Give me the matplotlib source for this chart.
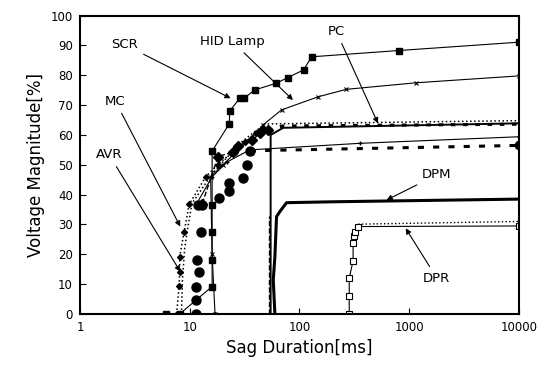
import numpy as np
import matplotlib
matplotlib.use("Agg")
import matplotlib.pyplot as plt

# sag duration [ms] / voltage magnitude [%]
scr_x = [6.1, 8.1, 16, 16, 16, 16, 16, 22.9, 23.2, 28.6, 31.2, 39.2, 61, 78, 109, 129, 800, 10000]
scr_y = [0, 0, 9.2, 18.1, 27.4, 36.5, 54.6, 63.7, 68.1, 72.3, 72.3, 75.1, 77.3, 79.2, 81.8, 86.2, 88.3, 91.1]

hid_x = [17, 16, 15.5, 20, 26, 34, 47, 68.7, 148, 268, 1161, 10000]
hid_y = [0, 20, 46, 50, 54, 58, 63.5, 68.4, 72.8, 75.3, 77.5, 79.8]

avr_x = [7.6, 8.0, 8.1, 8.1, 8.9, 9.9, 14, 18, 24, 32, 40, 47]
avr_y = [0, 9.5, 14.2, 19.2, 27.6, 36.8, 46, 50, 54, 57.5, 60.5, 62.5]

mc_x = [8.4, 8.6, 9.0, 9.5, 10.5, 16, 28.6, 48.3, 10000]
mc_y = [0, 12, 22, 28, 37, 47, 57.2, 63.7, 64.8]

pc_x = [13, 18.1, 24.9, 27.6, 37.3, 43.5, 51.9]
pc_y = [37, 52.7, 54.4, 56.4, 58.3, 60.6, 61.5]
pc_tail_x = [51.9, 70, 10000]
pc_tail_y = [61.5, 63.0, 63.6]

pcs_x = [54.6, 54.6, 71, 10000]
pcs_y = [0, 60, 62.4, 63.9]

circ_x = [11.4, 11.5, 11.4, 12.2, 11.6, 12.6, 11.8, 13.0, 18.5, 22.6, 22.9, 30.4, 33.2, 35.3]
circ_y = [0, 4.7, 9.2, 14.2, 18.2, 27.6, 36.5, 36.5, 39.0, 41.3, 43.8, 45.6, 50, 54.7]
circ_tail_x = [35.3, 10000]
circ_tail_y = [54.7, 56.5]

mid_x = [11.3, 16, 22, 35.3, 355, 10000]
mid_y = [36.3, 46, 51, 55, 57.2, 59.4]

dpm_x = [59.7, 57.7, 59.7, 61.8, 66.2, 76.3, 200, 10000]
dpm_y = [0, 11.4, 19.2, 32.6, 34.3, 37.3, 37.6, 38.5]
dpm_dash_x = [53, 53]
dpm_dash_y = [0, 33]

dpr_x = [284, 284, 284, 308, 308, 312, 320, 343, 10000]
dpr_y = [0, 6.1, 12, 17.9, 23.7, 26.1, 27.6, 29.3, 29.5]
dpr_dot_x = [104, 284, 343, 10000]
dpr_dot_y = [0, 0, 30.1, 31]

x_ticks = [1, 10, 100, 1000, 10000]
y_ticks = list(range(0, 101, 10))

# label text, text pos, arrow tip
labels = [
    ("SCR", (2.57, 90.2), (23.6, 72.3)),
    ("HID Lamp", (24.5, 91.3), (87.2, 71.7)),
    ("PC", (217, 94.6), (519, 63.9)),
    ("MC", (2.11, 71.2), (8.2, 29.3)),
    ("AVR", (1.85, 53.3), (8.2, 14.2)),
    ("DPM", (1786, 46.6), (622, 38.2)),
    ("DPR", (1786, 12.0), (929, 28.7)),
]

fig = plt.figure(figsize=(5.44, 3.72), dpi=100)
ax = fig.add_axes([0.147, 0.156, 0.807, 0.802])
k = "black"

ax.plot(scr_x, scr_y, "-", color=k, lw=0.8, marker="s", ms=4)
ax.plot(hid_x, hid_y, "-", color=k, lw=0.8, marker="x", ms=3, mew=0.8)
ax.plot(hid_x[:1], hid_y[:1], "^", color=k, ms=3)
ax.plot(avr_x, avr_y, ":", color=k, lw=1.1, marker="D", ms=3)
ax.plot(mc_x, mc_y, ":", color=k, lw=1.1)
ax.plot(pc_x, pc_y, "--", color=k, lw=1, marker="D", ms=5)
ax.plot(pc_tail_x, pc_tail_y, color=k, lw=2.2, dashes=(1.5, 2.5))
ax.plot(pcs_x, pcs_y, "-", color=k, lw=1.4)
ax.plot(circ_x, circ_y, "o", color=k, ms=6.5)
ax.plot(circ_tail_x, circ_tail_y, color=k, lw=2.2, dashes=(2, 3))
ax.plot(circ_tail_x[-1:], circ_tail_y[-1:], "o", color=k, ms=6)
ax.plot(mid_x, mid_y, "-", color=k, lw=0.8, marker="+", ms=3)
ax.plot(dpm_x, dpm_y, "-", color=k, lw=2.2)
ax.plot(dpm_dash_x, dpm_dash_y, "--", color=k, lw=1)
ax.plot(dpr_x, dpr_y, "-", color=k, lw=0.8, marker="s", ms=4, mfc="white", mew=0.8)
ax.plot(dpr_dot_x[:2], dpr_dot_y[:2], ":", color=k, lw=1)
ax.plot(dpr_dot_x[2:], dpr_dot_y[2:], ":", color=k, lw=1)

for txt, xy_text, xy_tip in labels:
    ax.annotate(txt, xy=xy_tip, xytext=xy_text, ha="center", va="center", fontsize=9.5,
                arrowprops=dict(arrowstyle="-|>", color=k, lw=0.8, mutation_scale=8,
                                shrinkA=2, shrinkB=0))

ax.set_xscale("log")
ax.set_xlim(1, 10000)
ax.set_ylim(0, 100)
ax.set_xticks(x_ticks)
ax.set_xticklabels([str(t) for t in x_ticks])
ax.minorticks_off()
ax.set_yticks(y_ticks)
ax.tick_params(direction="in", length=4, width=0.8, labelsize=8.5, pad=5)
for s in ax.spines.values():
    s.set_linewidth(1.5)
ax.set_xlabel("Sag Duration[ms]", fontsize=12)
ax.set_ylabel("Voltage Magnitude[%]", fontsize=12)

fig.savefig("out.png", dpi=100)
